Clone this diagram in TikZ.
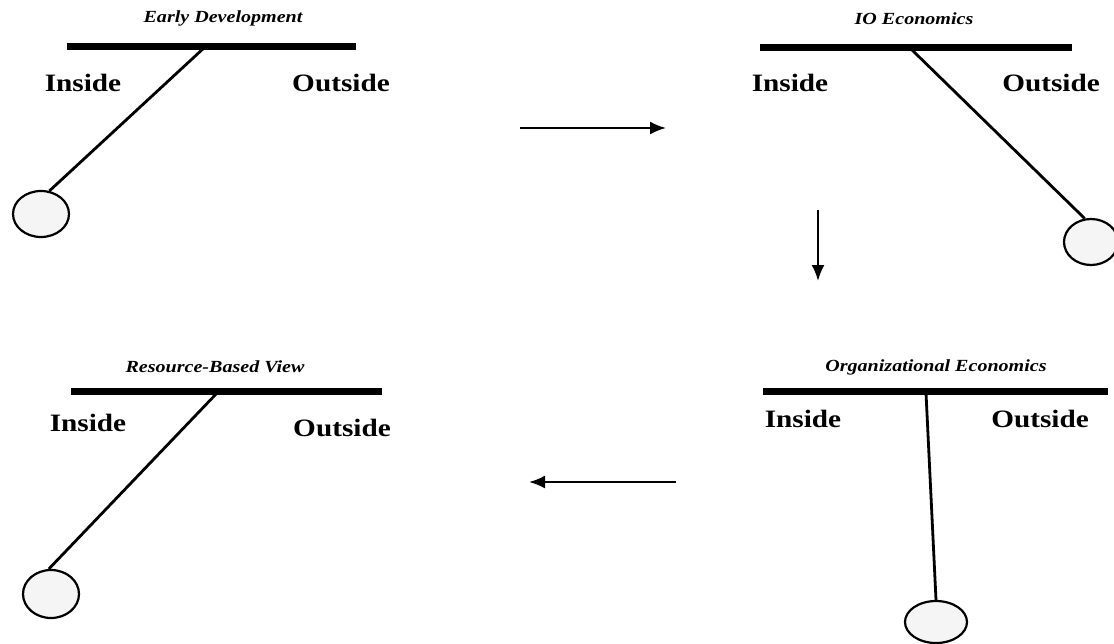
\documentclass[tikz,border=0pt]{standalone}
\usepackage{fontspec}
\setmainfont{Liberation Serif}
\usetikzlibrary{arrows.meta,shapes.geometric}
\newcommand{\lbltxt}[1]{\scalebox{1.17}[1]{\bfseries #1}}
\newcommand{\ttltxt}[1]{\scalebox{1.18}[1]{\bfseries\itshape #1}}
\tikzset{
  lbl/.style={inner sep=0pt, font=\fontsize{25}{25}\selectfont},
  ttl/.style={inner sep=0pt, font=\fontsize{17}{17}\selectfont},
  bar/.style={line width=7pt},
  rod/.style={line width=2.8pt},
  bob/.style={ellipse, draw, line width=2.2pt, fill=gray!8, inner sep=0pt},
  flow/.style={line width=2.2pt, -{Latex[length=16pt,width=13pt]}}
}
\begin{document}
\begin{tikzpicture}[x=1pt,y=-1pt]
\useasboundingbox (0,0) rectangle (1114,643);
% Panel 1: Early Development
\node[ttl] (t1) at (223,18) {\ttltxt{Early Development}};
\coordinate (b1l) at (67,46);
\coordinate (b1r) at (356,46);
\coordinate (p1) at (205,47);
\draw[bar] (b1l) -- (b1r);
\node[lbl] (in1) at (83,83) {\lbltxt{Inside}};
\node[lbl] (out1) at (341,83) {\lbltxt{Outside}};
\node[bob, minimum width=56pt, minimum height=46pt] (c1) at (41,214) {};
\draw[rod] (p1) -- (c1.70);
% Panel 2: IO Economics
\node[ttl] (t2) at (914,19) {\ttltxt{IO Economics}};
\coordinate (b2l) at (760,47);
\coordinate (b2r) at (1072,47);
\coordinate (p2) at (910,48);
\draw[bar] (b2l) -- (b2r);
\node[lbl] (in2) at (790,83) {\lbltxt{Inside}};
\node[lbl] (out2) at (1051,83) {\lbltxt{Outside}};
\node[bob, minimum width=54pt, minimum height=46pt] (c2) at (1091,242) {};
\draw[rod] (p2) -- (c2.105);
% Panel 3: Resource-Based View
\node[ttl] (t3) at (215,367) {\ttltxt{Resource-Based View}};
\coordinate (b3l) at (71,391);
\coordinate (b3r) at (382,391);
\coordinate (p3) at (218,392);
\draw[bar] (b3l) -- (b3r);
\node[lbl] (in3) at (88,423) {\lbltxt{Inside}};
\node[lbl] (out3) at (342,428) {\lbltxt{Outside}};
\node[bob, minimum width=56pt, minimum height=48pt] (c3) at (51,594) {};
\draw[rod] (p3) -- (c3.95);
% Panel 4: Organizational Economics
\node[ttl] (t4) at (936,367) {\ttltxt{Organizational Economics}};
\coordinate (b4l) at (763,391);
\coordinate (b4r) at (1108,391);
\coordinate (p4) at (926,393);
\draw[bar] (b4l) -- (b4r);
\node[lbl] (in4) at (803,419) {\lbltxt{Inside}};
\node[lbl] (out4) at (1040,419) {\lbltxt{Outside}};
\node[bob, minimum width=62pt, minimum height=42pt] (c4) at (936,622) {};
\draw[rod] (p4) -- (c4.north);
% Flow arrows
\coordinate (a1s) at (520,128);
\coordinate (a1e) at (666,128);
\coordinate (a2s) at (818,210);
\coordinate (a2e) at (818,281);
\coordinate (a3s) at (676,482);
\coordinate (a3e) at (529,482);
\draw[flow] (a1s) -- (a1e);
\draw[flow] (a2s) -- (a2e);
\draw[flow] (a3s) -- (a3e);
\end{tikzpicture}
\end{document}
